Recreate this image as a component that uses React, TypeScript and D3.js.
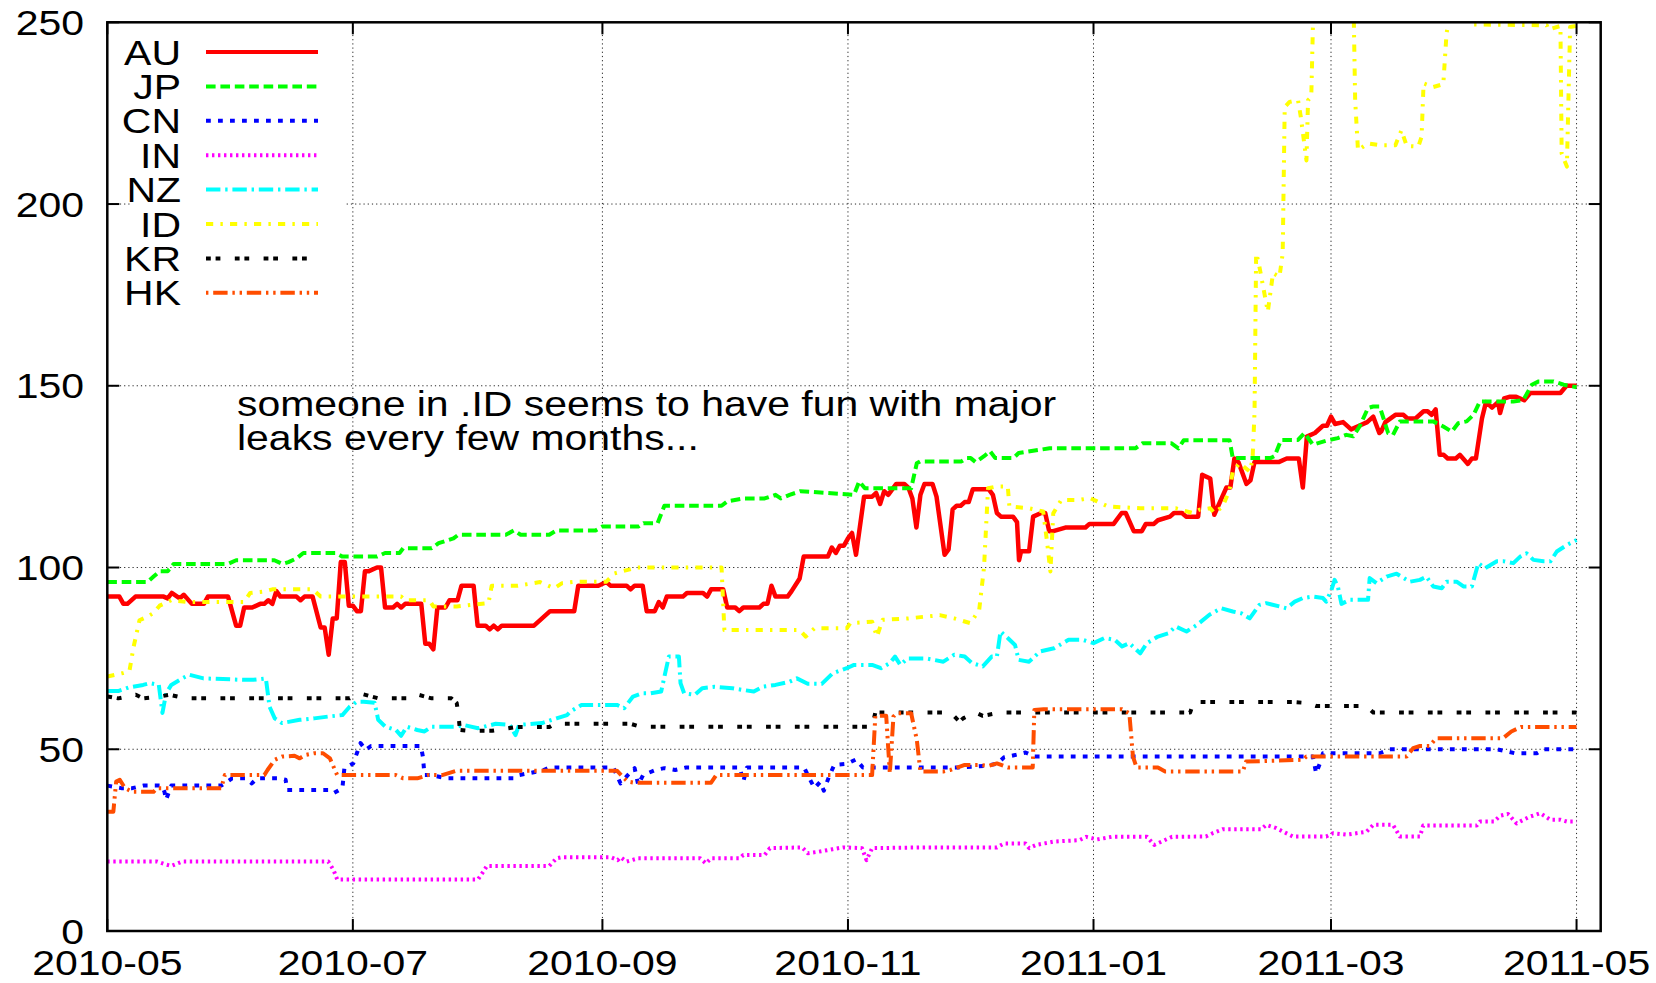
import React from "react";
import * as d3 from "d3";

// ---------- axes / labels ----------
const START = "2010-05-01";
const X_END = "2011-05-07";
const X_TICKS = ["2010-05-01", "2010-07-01", "2010-09-01", "2010-11-01", "2011-01-01", "2011-03-01", "2011-05-01"];
const X_TICK_LABELS = ["2010-05", "2010-07", "2010-09", "2010-11", "2011-01", "2011-03", "2011-05"];
const Y_TICKS = [0, 50, 100, 150, 200, 250];
const Y_GRID = [50, 100, 150, 200];
const ANNOTATION = ["someone in .ID seems to have fun with major", "leaks every few months..."];

// ---------- series: [days since START, value] ----------
const AU: [number, number][] = [
  [0, 92], [3, 92], [4, 90], [5, 90], [7, 92], [14, 92], [15, 91.5], [16, 93], [18, 91.5], [19, 92.5], [21, 90], [24, 90], [25, 92], [30, 92],
  [32, 84], [33, 84], [34, 89], [36, 89], [38, 90], [39, 90], [40, 91], [41, 90], [42, 93.5], [43, 92], [47, 92], [48, 91], [49, 92], [51, 92],
  [53, 83.5], [54, 83.5], [55, 76], [56, 86], [57, 86], [58, 101.5], [59, 101.5], [60, 89.5], [61, 89.5], [62, 88], [63, 88], [64, 99], [65, 99],
  [67, 100], [68, 100], [69, 89], [71, 89], [72, 90], [73, 89], [74, 90], [78, 90], [79, 79], [80, 79], [81, 77.5], [82, 89], [84, 89], [85, 91],
  [87, 91], [88, 95], [91, 95], [92, 84], [94, 84], [95, 83], [96, 84], [97, 83], [98, 84], [106, 84], [110, 88], [116, 88], [117, 95], [122, 95],
  [124, 96], [125, 95], [129, 95], [130, 94], [131, 95], [133, 95], [134, 88], [136, 88], [137, 90.5], [138, 89], [139, 92], [143, 92], [144, 93],
  [148, 93], [149, 92], [150, 94], [153, 94], [154, 89], [156, 89], [157, 88], [158, 89], [162, 89], [163, 90], [164, 90], [165, 95], [166, 92],
  [169, 92], [170, 93.5], [172, 97], [173, 103], [179, 103], [180, 105.5], [181, 104], [182, 106], [183, 106], [184, 108], [185, 109.5], [186, 103.5],
  [188, 119.5], [190, 119.5], [191, 120.5], [192, 117.5], [193, 121], [194, 120], [195, 121.5], [196, 123], [198, 123], [199, 122], [200, 119],
  [201, 111], [202, 120], [203, 123], [205, 123], [206, 119.5], [208, 103.5], [209, 105], [210, 116], [211, 117], [212, 117], [213, 118], [214, 118],
  [215, 121.5], [219, 121.5], [220, 120], [221, 115], [222, 114], [225, 114], [226, 112.5], [226.5, 102], [227, 104.5], [229, 104.5], [230, 114],
  [232, 115], [233, 115], [234, 110], [235, 110], [238, 111], [243, 111], [244, 112], [250, 112], [252, 115], [253, 115], [255, 110], [257, 110],
  [258, 112], [260, 112], [261, 113], [264, 114], [265, 115], [267, 115], [268, 114], [271, 114], [272, 125.5], [274, 124.5], [275, 114.5],
  [276, 117], [278, 122], [279, 122], [280, 130], [281, 129], [283, 123], [284, 124], [285, 129], [291, 129], [293, 130], [296, 130], [297, 122],
  [298, 136], [300, 137], [302, 139], [303, 139], [304, 141.5], [305, 139.5], [307, 140], [309, 138], [311, 139], [313, 140], [314.5, 141.5],
  [316, 137], [316.5, 137.5], [317.5, 140], [320, 142], [322, 142], [323, 141], [325, 141], [327, 143], [328, 143], [329, 142], [330, 143.5],
  [331, 131], [332, 131], [333, 130], [335, 130], [336, 131], [338, 128.5], [339, 130], [340, 130], [341.5, 141], [342.5, 145.5], [344, 144],
  [345.5, 145.5], [346, 142.5], [347, 146.5], [348.5, 147], [350, 147], [352, 146], [353.5, 148], [361, 148], [362.5, 150], [365, 150],
];

const JP: [number, number][] = [
  [0, 96], [10, 96], [11.5, 97.5], [13, 99], [15, 99], [16.5, 101], [30, 101], [32, 102], [41.5, 102], [43.5, 101], [45, 101.5], [47, 102.5],
  [48.7, 104], [56.7, 104], [58.4, 103], [67, 103], [69, 104], [72.6, 104], [73.5, 105.3], [80.6, 105.3], [82.3, 106.7], [86, 108], [87.2, 109],
  [99, 109], [101, 110.2], [102.7, 109], [109.8, 109], [111.6, 110.2], [121.3, 110.2], [123, 111.3], [132, 111.3], [133.2, 112.2], [136.7, 112.2],
  [138.4, 117], [152.6, 117], [154, 118.2], [158, 119], [163.3, 119], [166, 120], [167.3, 119], [169.5, 120], [172.2, 121], [185.5, 120],
  [186.8, 123.7], [188.2, 121.8], [199.7, 121.8], [201.1, 128.7], [201.9, 129.2], [212.2, 129.2], [213.5, 130.1], [214.5, 130.1], [215.7, 129],
  [217.9, 130.7], [219.3, 132], [220.6, 130.1], [225.1, 130.1], [226.4, 131.5], [234.1, 132.8], [255.4, 132.8], [257.2, 134.2], [264.3, 134.2],
  [266.1, 132.8], [267.4, 135], [278.8, 135], [279.6, 130.1], [289, 130.1], [290, 130.7], [291.6, 135.1], [295.8, 135.1], [297.4, 137],
  [299.5, 133.8], [302.8, 134.9], [305.7, 135.6], [307.8, 136.5], [309.5, 136.1], [311.1, 138.8], [313.2, 143.9], [314.5, 144.3], [316.1, 144.3],
  [318.2, 137], [319.4, 136.5], [321.1, 140.2], [329.4, 140.2], [331.9, 138.8], [334, 137.4], [335.6, 139.7], [337.7, 140.2], [339.4, 142],
  [341, 145.7], [349.3, 145.7], [351.8, 146.1], [353.9, 150.3], [355.6, 151.2], [359.3, 151.2], [361.8, 150.3], [365, 149.6],
];

const CN: [number, number][] = [
  [0, 40], [3.5, 39.3], [6.2, 39.3], [8.9, 40], [13.5, 40], [14.2, 38.3], [14.6, 36.1], [15.9, 40], [28.3, 40], [29.2, 40.6], [31, 42], [34.5, 42],
  [35.9, 40.6], [37.2, 42], [42.5, 42], [44.3, 41.6], [44.7, 38.8], [54.9, 38.8], [56.2, 37.9], [58.4, 39.3], [58.9, 44.8], [61.1, 46.1],
  [62.9, 51.7], [64.2, 49.8], [65.5, 50.9], [77.9, 50.9], [78.4, 48], [78.8, 42.9], [80.6, 42.9], [84.1, 42], [100.9, 42], [102.3, 42.9],
  [108, 44.1], [109.8, 45], [125.7, 45], [127.5, 40.6], [129.3, 42.9], [131, 44.8], [131.9, 40.2], [133.1, 42.9], [136.2, 44.3], [138.4, 44.8],
  [141.1, 44.3], [143.8, 45], [157.1, 45], [158, 41.1], [158.9, 45], [173.1, 45], [174.4, 42], [175.7, 39.3], [177.1, 41], [178, 38.6],
  [179.3, 42.5], [180.6, 45.7], [183.7, 46], [186, 47.2], [187.7, 45], [212.2, 45], [217.9, 45.4], [221, 46], [222.8, 47.8], [225.5, 48.4],
  [228.1, 49.1], [230.4, 48], [299.5, 48], [299.9, 45.7], [300.3, 43.4], [301.2, 46], [302, 48.9], [316.1, 48.9], [318.6, 50], [345.2, 50],
  [347.7, 49.4], [349.7, 48.9], [355.1, 48.9], [356.8, 50], [365, 50],
];

const IN: [number, number][] = [
  [0, 19.1], [12.4, 19.1], [14.2, 18.4], [15.9, 17.9], [18.6, 19.1], [54.9, 19.1], [56.2, 16.8], [57.1, 14.2], [92.1, 14.2], [93.4, 16.3],
  [94.3, 17.9], [109.8, 17.9], [111.6, 20], [112.9, 20.3], [125.1, 20.3], [126.8, 19.5], [127.5, 20.3], [129, 19.1], [131.9, 20], [147.3, 20],
  [148.7, 18.6], [150, 20], [157.1, 20], [158, 20.9], [163.3, 20.9], [164.6, 22.8], [172.6, 23], [174, 21.4], [176.6, 21.8], [180.2, 22.5],
  [182.8, 23], [187.5, 22.8], [188.6, 19.5], [190, 22.8], [203.3, 23], [221, 23], [222.8, 24.1], [228.1, 24.1], [229, 22.8], [230.8, 23.7],
  [235.2, 24.6], [241.5, 25], [243.2, 25.9], [245.9, 25.2], [249.5, 25.9], [258.3, 25.9], [260.1, 23.7], [261.9, 24.6], [264.5, 25.9],
  [272.9, 26], [274.6, 26.9], [277.1, 28], [286.7, 28], [287.9, 29.2], [290.4, 28.3], [294.5, 26], [302.8, 26], [304.5, 26.9], [307.8, 26.5],
  [312.8, 27.3], [314.5, 29.2], [319.4, 29.2], [321.1, 26], [326.1, 26], [326.9, 29], [340.2, 29], [341, 30.1], [344.5, 30.1], [346, 31.7],
  [348, 32.2], [350.1, 29.6], [351.8, 30.6], [353.5, 31.5], [356, 32.4], [358.5, 30.6], [361, 30.6], [362.6, 30.1], [365, 30.1],
];

const NZ: [number, number][] = [
  [0, 66], [2.7, 66], [5.3, 67], [8.9, 67.7], [10.6, 68.2], [12.8, 67.7], [13.7, 60], [14.6, 65.4], [15.9, 67.7], [18.6, 69.5], [20.4, 70.5],
  [23.9, 69.5], [33.6, 69.1], [36.3, 69.1], [39.4, 69.5], [40.3, 61.7], [41.6, 58.5], [43.4, 57.2], [47.8, 58.1], [51.4, 58.5], [54.9, 59],
  [58.4, 59.4], [60.2, 61.7], [62, 63.1], [63.7, 63.1], [66.4, 62.8], [67.3, 58.1], [69.1, 56.2], [71.7, 55.3], [73, 53.7], [74.4, 56.2],
  [77, 55.3], [78.8, 54.9], [80.6, 56.2], [86.8, 56.2], [88.5, 56.7], [92.1, 55.8], [96.5, 57], [100, 56.7], [101.4, 53.9], [102.3, 56.7],
  [108, 57.2], [111.6, 58.5], [114.2, 59.4], [115.1, 60.4], [117.8, 62.2], [126.6, 62.2], [128.4, 61.3], [130.6, 64.5], [132.8, 65.4],
  [135, 65.4], [137.6, 65.9], [139.5, 75.5], [142, 75.5], [142.4, 68.2], [143.3, 65.4], [146, 65], [147.8, 66.8], [150.9, 67.2], [155.3, 66.8],
  [158, 66.3], [160.6, 65.9], [162.8, 67.2], [166, 67.7], [169.5, 68.6], [171.3, 69.5], [174, 68], [177.5, 68], [180.2, 70.9], [183.7, 72.3],
  [185.5, 73.2], [190, 73.2], [192.2, 72.3], [194.4, 73.7], [195.7, 75.5], [197, 73.2], [198.8, 75], [203.3, 75], [207.7, 74.1], [210.4, 76],
  [213, 75.5], [214.8, 73.7], [217.5, 72.8], [219.7, 75.5], [221, 75.5], [221.9, 82.4], [223.7, 80.6], [225.5, 78.7], [226.4, 74.6], [229, 74.1],
  [231.7, 76.9], [235.2, 77.8], [238.8, 80.1], [242.3, 80.1], [245, 79.2], [247.7, 80.6], [250.3, 80.1], [252.1, 78.3], [253.9, 79.2],
  [256.6, 76.4], [258.3, 79.2], [261, 81], [263.6, 81.9], [265.4, 83.8], [268.1, 82.4], [270.7, 84.2], [273.8, 87], [276.7, 88.8], [279.6, 87.9],
  [281.7, 87.4], [283.8, 86], [286.2, 89.7], [287.9, 90.2], [291.2, 89.3], [292.9, 88.8], [295, 90.6], [297, 91.6], [299.5, 92], [302, 91.6],
  [302.8, 90.6], [304.1, 93.8], [304.9, 96.6], [305.7, 94.8], [306.6, 90], [308.6, 91.1], [313.2, 91.1], [313.6, 97.1], [315.3, 95.7],
  [317.8, 97.5], [320.3, 98.3], [323.6, 96.1], [326.1, 96.6], [327.7, 97.5], [329.4, 94.8], [331.5, 94.3], [332.7, 96.1], [335.2, 96.1],
  [336.9, 94.8], [339, 94.8], [340.6, 101.2], [342.3, 99.8], [345.2, 101.7], [347, 101.7], [349.3, 101.2], [351, 103], [352.6, 103.9],
  [354.3, 102.1], [356.8, 101.7], [358.5, 101.7], [360.1, 104.4], [362.6, 106.2], [365, 107.6],
];

const ID: [number, number][] = [
  [0, 70], [2, 70.5], [4, 71], [5.5, 71.5], [6.5, 78], [8, 85.5], [10, 86.5], [11.5, 87.5], [13, 89.5], [15.9, 91], [20, 90.5], [34, 90.5],
  [35.5, 93], [39, 93.4], [41, 94], [51, 94], [53, 92], [73, 92], [74, 91], [80, 91], [81, 89.3], [86.8, 89.3], [94.7, 90.2], [95.5, 95],
  [102, 95], [107.5, 96], [111, 94.3], [113, 95.7], [116.5, 96.1], [124, 96.1], [126, 98.4], [131.5, 100], [152.6, 100], [153.3, 82.8],
  [172, 82.8], [173.5, 81], [175.7, 83.3], [183.7, 83.3], [184.6, 84.7], [190, 85.1], [191.2, 81], [192.6, 85.6], [199, 86], [206.8, 86.9],
  [210.4, 86], [214.4, 84.7], [216.6, 88.3], [217.8, 100], [218.8, 121.8], [221, 122.3], [223.7, 122.3], [224.1, 116.8], [229, 116.3],
  [232.5, 115.4], [233.4, 107.6], [234.3, 98.9], [235, 114.9], [237, 118.6], [241.5, 118.6], [244.1, 119.1], [245.9, 118.2], [248.6, 116.8],
  [256.6, 116.3], [265.4, 116.3], [269.6, 115], [271.3, 115.9], [274, 116.3], [275, 115], [277.1, 116.8], [278.8, 121.4], [279.6, 126.4],
  [281.3, 128.7], [283.8, 126.4], [284.5, 129.6], [285, 142.5], [285.4, 186.4], [286, 184], [288.3, 170.4], [289.6, 181], [291.2, 180],
  [292, 186.4], [292.5, 226.7], [293.7, 228.1], [295.8, 228.6], [296.5, 224], [297.9, 212], [298.3, 228.6], [299.1, 229.5], [299.5, 248.7],
  [300.5, 262], [309.5, 262], [310, 228.6], [310.7, 214.8], [313.2, 216.7], [316.1, 216.2], [320, 216.2], [321.5, 220.3], [322.8, 216],
  [325.7, 215.8], [326.5, 218.5], [327, 233.2], [329.4, 232.2], [331.9, 233], [332.7, 246.9], [333.5, 252], [338, 252], [339, 249.4],
  [357.6, 249.2], [358, 248], [361, 249], [361.3, 213.9], [362.6, 210.3], [363.4, 248.7], [365, 249],
];

const KR: [number, number][] = [
  [0, 64.5], [2.7, 64], [7.1, 65], [8.9, 64], [13, 64.5], [15.5, 65], [19.5, 64], [60.2, 64], [61.5, 64.7], [63.3, 65.2], [67.3, 64],
  [74.4, 64], [75.5, 64.5], [76.6, 65.2], [80.6, 64], [85.5, 64], [86.8, 62.7], [87.2, 59.9], [87.6, 55.3], [89.4, 55.1], [95.6, 55.1],
  [101.4, 56.1], [109.8, 56.1], [111.1, 57], [130, 57], [132.4, 56.2], [190, 56.2], [190.8, 60.1], [209.5, 60.1], [211.7, 57.6], [212.6, 58.5],
  [215.7, 60.1], [217.5, 59.2], [221.9, 60.1], [269, 60.1], [269.9, 63], [294.5, 63], [298.3, 62.7], [300.3, 61.9], [312.8, 61.9],
  [314.5, 60.1], [365, 60.1],
];

const HK: [number, number][] = [
  [0, 32.8], [1.5, 32.8], [2.2, 41.1], [3.1, 41.6], [4.4, 39.3], [6.2, 38.3], [11.5, 38.3], [12.4, 39.3], [28.3, 39.3], [29.2, 42.9],
  [39, 42.9], [39.8, 44.3], [41.6, 47.1], [43.4, 48], [46.5, 48.2], [47.8, 47.5], [49.1, 48.4], [51.4, 48.9], [53.6, 48.9], [55.3, 47.5],
  [57.1, 42.9], [71.7, 42.9], [73.5, 42], [77, 42], [79.7, 42.9], [83.2, 42.9], [86.8, 44.1], [126.6, 44.1], [128.4, 42], [129.3, 41.1],
  [131, 40.8], [150, 40.8], [151.3, 42.9], [190, 42.9], [190.8, 59.2], [193.5, 59.2], [194.4, 43.4], [195.3, 59], [196.2, 59.9], [199.7, 59.9],
  [201.1, 52.6], [202, 43.9], [207.7, 43.9], [209.5, 44.3], [213, 45.7], [216.6, 45.7], [218.8, 45.4], [221, 46.1], [223.7, 45], [229.9, 45],
  [230.3, 60.8], [232.6, 61], [252.1, 61], [253.9, 59.9], [254.8, 48], [255.7, 45], [261, 45], [262.8, 43.9], [282.1, 43.9], [282.9, 46.6],
  [297, 47.1], [297.9, 48], [322.8, 48], [324.4, 50.3], [326.1, 50.9], [328.5, 50.9], [330.1, 53], [346.7, 53], [348.8, 54.9], [351.2, 56.1],
  [365, 56.1],
];

const SERIES_NAMES = ["AU", "JP", "CN", "IN", "NZ", "ID", "KR", "HK"];
const SERIES_DATA = [AU, JP, CN, IN, NZ, ID, KR, HK];
const SERIES_COLORS = ["#ff0000", "#00ff00", "#0000ff", "#ff00ff", "#00ffff", "#ffff00", "#000000", "#ff4d00"];

// gnuplot dash patterns (in units of 2.4px)
const U = 2.4;
const DASHES: number[][] = [[], [4, 2], [2, 3], [1, 1.5], [6, 2, 1, 2], [3, 3, 1, 3], [2, 2, 2, 6], [6, 2, 1, 2, 1, 2]];
const LEGEND_OFFSETS = [0, 0, 0, 0, 0, 0, 0, 11];

// ---------- layout ----------
const W = 1656;
const H = 983;
const M = { left: 107.3, right: 1600.7, top: 22.3, bottom: 931 };
const FONT = "'Liberation Sans', Arial, Helvetica, sans-serif";
const FS = 35;
const SX = 1.17;

const parseDay = d3.utcParse("%Y-%m-%d");

function Txt({ x, y, anchor, children }: { x: number; y: number; anchor: string; children: React.ReactNode }) {
  return (
    <text
      transform={`translate(${x},${y}) scale(${SX},1)`}
      textAnchor={anchor}
      fontFamily={FONT}
      fontSize={FS}
      fill="#000"
    >
      {children}
    </text>
  );
}

export default function App() {
  const start = parseDay(START)!;
  const end = parseDay(X_END)!;
  const x = d3.scaleUtc().domain([start, end]).range([M.left, M.right]);
  const y = d3.scaleLinear().domain([0, 250]).range([M.bottom, M.top]);
  const dayToDate = (d: number) => new Date(start.getTime() + d * 864e5);
  const line = d3
    .line<[number, number]>()
    .x((d) => x(dayToDate(d[0])))
    .y((d) => y(d[1]));

  const xTicks = X_TICKS.map((s) => parseDay(s)!);
  const tickLen = 12;
  const legendX0 = 206;
  const legendX1 = 318;
  const legendY0 = 52;
  const legendDy = 34.4;
  const capHalf = FS * 0.716 * 0.5;

  return (
    <svg width={W} height={H} style={{ position: "absolute", left: 0, top: 0, background: "#fff" }}>
      <rect x={0} y={0} width={W} height={H} fill="#fff" />
      <defs>
        <clipPath id="plotclip">
          <rect x={M.left} y={M.top} width={M.right - M.left} height={M.bottom - M.top} />
        </clipPath>
      </defs>

      {/* grid */}
      <g stroke="#000" strokeWidth={1} strokeDasharray="1.2 3" opacity={0.85}>
        {xTicks.slice(1).map((d, i) => (
          <line key={"gx" + i} x1={x(d)} x2={x(d)} y1={M.top} y2={M.bottom} />
        ))}
        {Y_GRID.map((v) => (
          <line key={"gy" + v} x1={M.left} x2={M.right} y1={y(v)} y2={y(v)} />
        ))}
      </g>

      {/* key background (opaque) */}
      <rect x={132} y={25} width={212} height={288} fill="#fff" />

      {/* series */}
      <g clipPath="url(#plotclip)" fill="none" strokeLinejoin="round" strokeLinecap="butt">
        {SERIES_DATA.map((data, i) => (
          <path
            key={SERIES_NAMES[i]}
            d={line(data) || ""}
            stroke={SERIES_COLORS[i]}
            strokeWidth={i === 0 ? 4.5 : 4}
            strokeDasharray={DASHES[i].length ? DASHES[i].map((v) => v * U).join(" ") : undefined}
          />
        ))}
      </g>

      {/* border */}
      <rect
        x={M.left}
        y={M.top}
        width={M.right - M.left}
        height={M.bottom - M.top}
        fill="none"
        stroke="#000"
        strokeWidth={2.5}
      />

      {/* ticks */}
      <g stroke="#000" strokeWidth={2}>
        {Y_TICKS.map((v) => (
          <g key={"ty" + v}>
            <line x1={M.left} x2={M.left + tickLen} y1={y(v)} y2={y(v)} />
            <line x1={M.right} x2={M.right - tickLen} y1={y(v)} y2={y(v)} />
          </g>
        ))}
        {xTicks.map((d, i) => (
          <g key={"tx" + i}>
            <line x1={x(d)} x2={x(d)} y1={M.bottom} y2={M.bottom - tickLen} />
            <line x1={x(d)} x2={x(d)} y1={M.top} y2={M.top + tickLen} />
          </g>
        ))}
      </g>

      {/* tick labels */}
      {Y_TICKS.map((v) => (
        <Txt key={"ly" + v} x={84} y={y(v) + capHalf} anchor="end">
          {String(v)}
        </Txt>
      ))}
      {xTicks.map((d, i) => (
        <Txt key={"lx" + i} x={x(d)} y={975} anchor="middle">
          {X_TICK_LABELS[i]}
        </Txt>
      ))}

      {/* legend */}
      {SERIES_NAMES.map((n, i) => {
        const ly = legendY0 + i * legendDy;
        return (
          <g key={"lg" + n}>
            <Txt x={181} y={ly + capHalf} anchor="end">
              {n}
            </Txt>
            <line
              x1={legendX0}
              x2={legendX1}
              y1={ly}
              y2={ly}
              stroke={SERIES_COLORS[i]}
              strokeWidth={4}
              strokeDasharray={DASHES[i].length ? DASHES[i].map((v) => v * U).join(" ") : undefined}
              strokeDashoffset={LEGEND_OFFSETS[i] * U}
            />
          </g>
        );
      })}

      {/* annotation */}
      {ANNOTATION.map((t, i) => (
        <Txt key={"an" + i} x={237} y={415.5 + i * 34.4} anchor="start">
          {t}
        </Txt>
      ))}
    </svg>
  );
}
